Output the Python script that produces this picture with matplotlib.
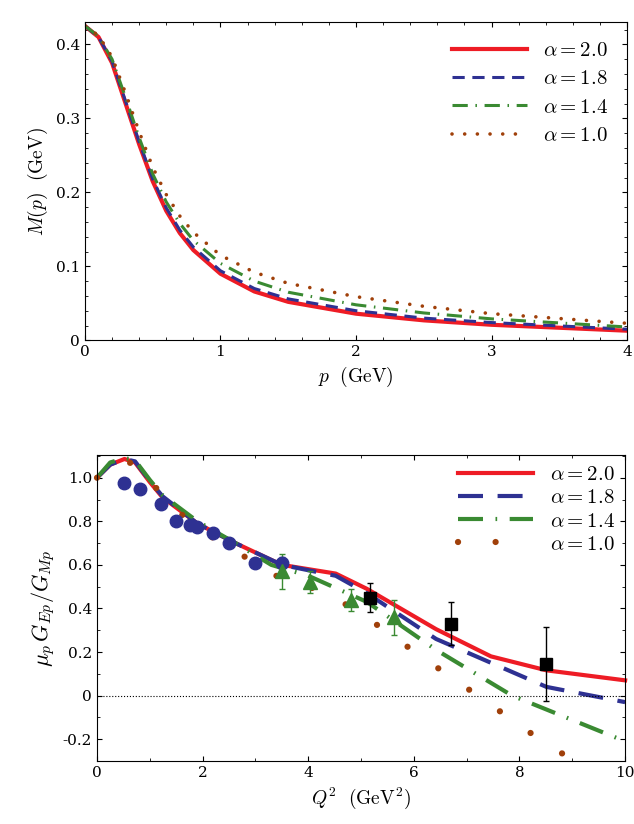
import matplotlib
matplotlib.use("Agg")
import matplotlib.pyplot as plt
from matplotlib.ticker import AutoMinorLocator

plt.rcParams['mathtext.fontset'] = 'cm'
plt.rcParams['font.family'] = 'DejaVu Serif'
plt.rcParams['font.size'] = 13

labels = [r'$\alpha = 2.0$', r'$\alpha = 1.8$', r'$\alpha = 1.4$', r'$\alpha = 1.0$']
colors = ['#ee1c25', '#2e3192', '#3a8a32', '#a0400a']

# Top panel: M(p)
p_vals = [0, 0.1, 0.2, 0.3, 0.4, 0.5, 0.6, 0.7, 0.8, 1.0, 1.25, 1.5, 2.0, 2.5, 3.0, 4.0]
M_20 = [0.425, 0.41, 0.375, 0.32, 0.265, 0.215, 0.175, 0.145, 0.122, 0.09, 0.066, 0.052, 0.036, 0.027, 0.021, 0.013]
M_18 = [0.425, 0.41, 0.377, 0.323, 0.268, 0.218, 0.179, 0.149, 0.126, 0.094, 0.07, 0.056, 0.04, 0.03, 0.024, 0.015]
M_14 = [0.425, 0.411, 0.38, 0.328, 0.274, 0.225, 0.187, 0.158, 0.135, 0.104, 0.08, 0.065, 0.048, 0.037, 0.029, 0.018]
M_10 = [0.425, 0.412, 0.383, 0.334, 0.282, 0.234, 0.197, 0.168, 0.146, 0.115, 0.092, 0.077, 0.059, 0.046, 0.036, 0.023]

# Bottom panel
Q_20 = [0, 0.25, 0.52, 0.72, 1.0, 1.24, 1.9, 2.62, 3.5, 4.52, 5.11, 6.42, 7.46, 8.51, 10]
G_20 = [1.0, 1.06, 1.086, 1.07, 0.98, 0.91, 0.79, 0.70, 0.60, 0.56, 0.49, 0.305, 0.18, 0.116, 0.07]
Q_18 = [0, 0.25, 0.52, 0.72, 1.0, 1.24, 1.9, 2.62, 3.5, 4.52, 5.11, 6.42, 8.51, 10]
G_18 = [1.0, 1.06, 1.086, 1.075, 0.985, 0.915, 0.79, 0.70, 0.60, 0.55, 0.47, 0.26, 0.04, -0.03]
Q_14 = [0, 0.25, 0.52, 0.72, 1.0, 1.24, 1.9, 2.62, 3.3, 4.0, 5.11, 6.42, 7.86, 10]
G_14 = [1.0, 1.07, 1.09, 1.08, 0.99, 0.92, 0.80, 0.70, 0.60, 0.55, 0.43, 0.21, 0.0, -0.21]
Q_10 = [0, 0.33, 0.69, 0.95, 1.24, 1.5, 1.83, 2.16, 2.49, 2.85, 3.2, 4.36, 5.04, 6.02, 6.7, 7.37, 8.02, 8.68, 9.05]
G_10 = [1.0, 1.06, 1.07, 1.0, 0.92, 0.85, 0.79, 0.73, 0.68, 0.63, 0.566, 0.47, 0.37, 0.2, 0.085, -0.027, -0.14, -0.25, -0.295]

circ_Q = [0.52, 0.82, 1.21, 1.5, 1.77, 1.9, 2.19, 2.49, 3.0, 3.5]
circ_G = [0.976, 0.948, 0.88, 0.80, 0.785, 0.774, 0.746, 0.70, 0.61, 0.607]
circ_err = [0.01, 0.01, 0.01, 0.01, 0.01, 0.01, 0.01, 0.02, 0.02, 0.03]
tri_Q = [3.5, 4.03, 4.81, 5.63]
tri_G = [0.57, 0.52, 0.44, 0.36]
tri_err = [0.08, 0.05, 0.05, 0.08]
sq_Q = [5.17, 6.71, 8.51]
sq_G = [0.45, 0.33, 0.145]
sq_err = [0.065, 0.1, 0.17]

fig = plt.figure(figsize=(6.34, 8.24), dpi=100)
ax1 = fig.add_axes([0.134, 0.587, 0.855, 0.386])
ax2 = fig.add_axes([0.153, 0.0765, 0.833, 0.3715])

styles = [dict(ls='-', lw=3), dict(ls=(0, (4, 2.5)), lw=2.2),
          dict(ls=(0, (5, 2.5, 0.5, 2.5)), lw=2.2), dict(ls=(0, (0.01, 3.5)), lw=2.6, dash_capstyle='round')]

for y, c, l, s in zip([M_20, M_18, M_14, M_10], colors, labels, styles):
    ax1.plot(p_vals, y, color=c, label=l, **s)
ax1.set_xlim(0, 4)
ax1.set_ylim(0, 0.43)
ax1.set_xticks([0, 1, 2, 3, 4])
ax1.set_yticks([0, 0.1, 0.2, 0.3, 0.4])
ax1.set_yticklabels(['0', '0.1', '0.2', '0.3', '0.4'])
ax1.set_xlabel(r'$p\ \ \mathrm{(GeV)}$', fontsize=14)
ax1.set_ylabel(r'$M(p)\ \ \mathrm{(GeV)}$', fontsize=14)
ax1.legend(loc='upper right', frameon=False, fontsize=15, handlelength=3.6, labelspacing=0.45)

styles2 = [dict(ls='-', lw=3), dict(ls=(0, (6, 3.5)), lw=3),
           dict(ls=(0, (6, 3, 0.4, 3)), lw=3), dict(ls=(0, (0.01, 6)), lw=4.5, dash_capstyle='round')]
for q, y, c, l, s in zip([Q_20, Q_18, Q_14, Q_10], [G_20, G_18, G_14, G_10], colors, labels, styles2):
    ax2.plot(q, y, color=c, label=l, clip_on=False, **s)
ax2.axhline(0, color='black', ls=':', lw=0.8)
ax2.errorbar(circ_Q, circ_G, yerr=circ_err, fmt='o', color='#2e3192', ms=9, elinewidth=1, capsize=2)
ax2.errorbar(tri_Q, tri_G, yerr=tri_err, fmt='^', color='#3a8a32', ms=10, elinewidth=1, capsize=2)
ax2.errorbar(sq_Q, sq_G, yerr=sq_err, fmt='s', color='black', ms=8, elinewidth=1, capsize=2)
ax2.set_xlim(0, 10)
ax2.set_ylim(-0.3, 1.105)
ax2.set_xticks([0, 2, 4, 6, 8, 10])
ax2.set_yticks([-0.2, 0, 0.2, 0.4, 0.6, 0.8, 1.0])
ax2.set_yticklabels(['-0.2', '0', '0.2', '0.4', '0.6', '0.8', '1.0'])
ax2.set_xlabel(r'$Q^2\ \ \mathrm{(GeV^2)}$', fontsize=14)
ax2.set_ylabel(r'$\mu_p\, G_{Ep}/G_{Mp}$', fontsize=16)
ax2.legend(loc='upper right', frameon=False, fontsize=15, handlelength=3.6, labelspacing=0.2,
           borderaxespad=0.1)

for ax in (ax1, ax2):
    ax.tick_params(direction='in', top=True, right=True, which='both', labelsize=11)
    ax.xaxis.set_minor_locator(AutoMinorLocator(2 if ax is ax2 else 5))
    ax.yaxis.set_minor_locator(AutoMinorLocator(2 if ax is ax2 else 5))

fig.savefig('out.png', dpi=100)
